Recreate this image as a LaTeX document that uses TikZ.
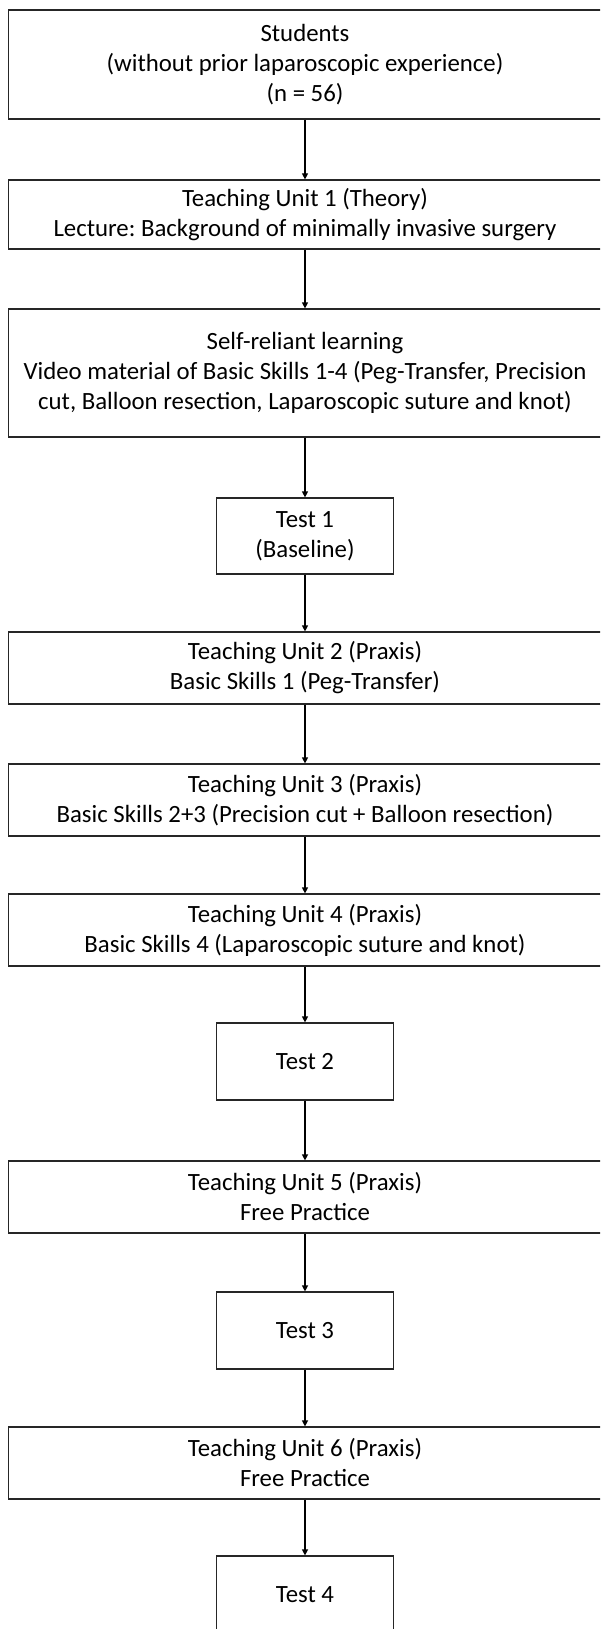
\documentclass[tikz,border=0pt]{standalone}
\usepackage{fontspec}
\setmainfont{Carlito}
\usetikzlibrary{arrows.meta}
\frenchspacing
\tikzset{
  widebox/.style={draw=black!85, line width=1.2pt, inner sep=0pt,
                  minimum width=593pt, align=center,
                  font=\fontsize{24.8}{30}\selectfont},
  testbox/.style={draw=black!85, line width=1.2pt, inner sep=0pt,
                  minimum width=177pt, minimum height=77pt, align=center,
                  font=\fontsize{24.8}{30}\selectfont},
  arr/.style    ={-{Triangle[length=6pt, width=6pt]}, line width=1.2pt},
}
\begin{document}
\begin{tikzpicture}[x=1pt, y=-1pt]
  \useasboundingbox (0,0) rectangle (600,1629);
  \clip (0,0) rectangle (600,1629);
  \node[widebox, minimum height=109pt] (stud) at (305,64.5)
    {Students\\(without prior laparoscopic experience)\\(n = 56)};
  \node[widebox, minimum height=69pt] (tu1) at (305,214.5)
    {Teaching Unit 1 (Theory)\\Lecture: Background of minimally invasive surgery};
  \node[widebox, minimum height=128pt] (self) at (305,373)
    {Self-reliant learning\\Video material of Basic Skills 1-4 (Peg-Transfer, Precision\\cut, Balloon resection, Laparoscopic suture and knot)};
  \node[testbox, minimum height=76pt] (t1) at (305,536) {Test 1\\(Baseline)};
  \node[widebox, minimum height=72pt] (tu2) at (305,668)
    {Teaching Unit 2 (Praxis)\\Basic Skills 1 (Peg-Transfer)};
  \node[widebox, minimum height=72pt] (tu3) at (305,800)
    {Teaching Unit 3 (Praxis)\\Basic Skills 2+3 (Precision cut + Balloon resection)};
  \node[widebox, minimum height=72pt] (tu4) at (305,930)
    {Teaching Unit 4 (Praxis)\\Basic Skills 4 (Laparoscopic suture and knot)};
  \node[testbox] (t2) at (305,1061.5) {Test 2};
  \node[widebox, minimum height=72pt] (tu5) at (305,1197)
    {Teaching Unit 5 (Praxis)\\Free Practice};
  \node[testbox] (t3) at (305,1330.5) {Test 3};
  \node[widebox, minimum height=72pt] (tu6) at (305,1463)
    {Teaching Unit 6 (Praxis)\\Free Practice};
  \node[testbox] (t4) at (305,1594.5) {Test 4};
  \draw[arr] (stud) -- (tu1);
  \draw[arr] (tu1) -- (self);
  \draw[arr] (self) -- (t1);
  \draw[arr] (t1) -- (tu2);
  \draw[arr] (tu2) -- (tu3);
  \draw[arr] (tu3) -- (tu4);
  \draw[arr] (tu4) -- (t2);
  \draw[arr] (t2) -- (tu5);
  \draw[arr] (tu5) -- (t3);
  \draw[arr] (t3) -- (tu6);
  \draw[arr] (tu6) -- (t4);
\end{tikzpicture}
\end{document}
